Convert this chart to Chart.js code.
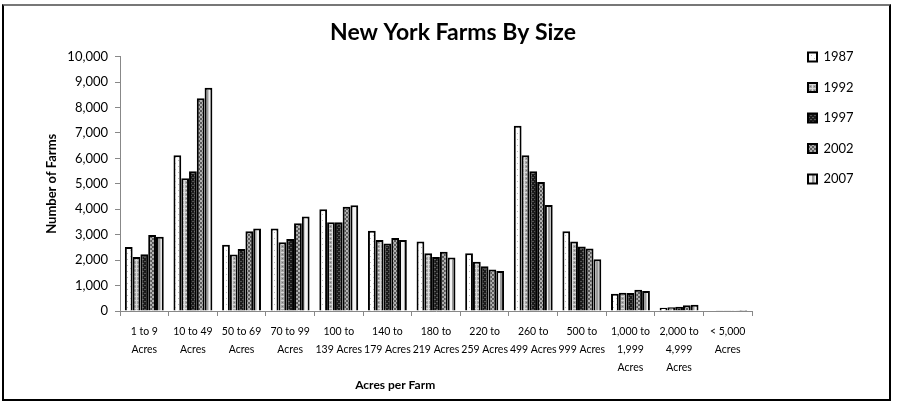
<!DOCTYPE html>
<html>
<head>
<meta charset="utf-8">
<script src="https://cdn.jsdelivr.net/npm/chart.js@4"></script>
<style>
  html, body { margin: 0; padding: 0; background: #fff; }
  #wrap { position: relative; width: 906px; height: 405px; }
  #frame { position: absolute; left: 2px; top: 4px; width: 885px; height: 393px; border: 2px solid #000; border-top-color: #777; box-sizing: content-box; pointer-events: none; }
  canvas { position: absolute; left: 0; top: 0; }
</style>
</head>
<body>
<div id="wrap">
  <canvas id="farm-chart" width="906" height="405"></canvas>
  <div id="frame"></div>
</div>
<script>
const sizeLabels = [
    ['1 to 9', 'Acres'], ['10 to 49', 'Acres'], ['50 to 69', 'Acres'], ['70 to 99', 'Acres'],
    ['100 to', '139 Acres'], ['140 to', '179 Acres'], ['180 to', '219 Acres'], ['220 to', '259 Acres'],
    ['260 to', '499 Acres'], ['500 to', '999 Acres'], ['1,000 to', '1,999', 'Acres'],
    ['2,000 to', '4,999', 'Acres'], ['< 5,000', 'Acres']
];
const years = ['1987', '1992', '1997', '2002', '2007'];
const farms1987 = [2520, 6120, 2600, 3240, 4000, 3150, 2730, 2270, 7280, 3130, 680, 130, 20];
const farms1992 = [2120, 5220, 2220, 2700, 3490, 2790, 2270, 1940, 6120, 2730, 720, 150, 25];
const farms1997 = [2230, 5490, 2440, 2830, 3490, 2650, 2120, 1760, 5490, 2540, 710, 170, 25];
const farms2002 = [2990, 8360, 3130, 3450, 4100, 2870, 2330, 1630, 5070, 2460, 840, 230, 30];
const farms2007 = [2920, 8780, 3240, 3710, 4160, 2790, 2100, 1570, 4170, 2030, 790, 250, 35];
const yMax = 10000;
const yStep = 1000;

const font = 'Lato, "Open Sans", sans-serif';

// little tiles used as bar fills, roughly like the old Excel patterns
function makePattern(size, draw) {
    const c = document.createElement('canvas');
    c.width = size; c.height = size;
    const g = c.getContext('2d');
    draw(g);
    return g.createPattern(c, 'repeat');
}

const fills = [
    makePattern(6, g => {           // white, sparse dots
        g.fillStyle = '#fff'; g.fillRect(0, 0, 6, 6);
        g.fillStyle = '#bbb'; g.fillRect(1, 1, 1, 1); g.fillRect(4, 4, 1, 1);
    }),
    makePattern(4, g => {           // grey grid
        g.fillStyle = '#a8a8a8'; g.fillRect(0, 0, 4, 4);
        g.fillStyle = '#d8d8d8'; g.fillRect(0, 0, 4, 1); g.fillRect(0, 0, 1, 4);
        g.fillStyle = '#777'; g.fillRect(2, 2, 1, 1);
    }),
    makePattern(4, g => {           // dark, faint dashes
        g.fillStyle = '#1a1a1a'; g.fillRect(0, 0, 4, 4);
        g.fillStyle = '#555'; g.fillRect(0, 1, 2, 1); g.fillRect(2, 3, 2, 1);
    }),
    makePattern(4, g => {           // checker
        g.fillStyle = '#5a5a5a'; g.fillRect(0, 0, 4, 4);
        g.fillStyle = '#b0b0b0'; g.fillRect(0, 0, 2, 2); g.fillRect(2, 2, 2, 2);
    }),
    makePattern(6, g => {           // vertical stripes
        g.fillStyle = '#f2f2f2'; g.fillRect(0, 0, 6, 6);
        g.fillStyle = '#9a9a9a'; g.fillRect(2, 0, 2, 6);
        g.fillStyle = '#c8c8c8'; g.fillRect(4, 0, 1, 6);
    })
];

const seriesValues = [farms1987, farms1992, farms1997, farms2002, farms2007];

const datasets = years.map((yr, i) => ({
    label: yr,
    data: seriesValues[i],
    backgroundColor: fills[i],
    borderColor: '#000',
    borderWidth: 2,
    categoryPercentage: 0.8,
    barPercentage: 1.0
}));

// pin the plot box to where the reference has it, and park the legend top right
const PLOT_RIGHT = 752;
const legendPlacer = {
    id: 'legendPlacer',
    beforeLayout(chart) {
        const lg = chart.legend;
        if (lg && !lg._pinned) {
            const fit = lg.fit.bind(lg);
            lg.fit = function () { fit(); this.width = chart.width - PLOT_RIGHT; };
            lg._pinned = true;
        }
    },
    afterLayout(chart) {
        const lg = chart.legend;
        const pad = lg.options.labels.padding;
        lg.left = 808 - pad;
        lg.right = lg.left + 80;
        lg.top = 57 - pad - 6.5;
        lg.bottom = lg.top + 200;
    }
};

new Chart(document.querySelector('#farm-chart'), {
    type: 'bar',
    data: { labels: sizeLabels, datasets: datasets },
    plugins: [legendPlacer],
    options: {
        responsive: false,
        animation: false,
        layout: { padding: { left: 0, right: 0, top: 10, bottom: 13 } },
        plugins: {
            title: {
                display: true,
                text: 'New York Farms By Size',
                color: '#000',
                font: { family: font, size: 23, weight: 'bold' },
                padding: { top: 9, bottom: 10 }
            },
            legend: {
                position: 'right',
                align: 'start',
                labels: {
                    color: '#000',
                    font: { family: font, size: 13 },
                    boxWidth: 9,
                    boxHeight: 9,
                    padding: 17.5
                }
            },
            tooltip: { enabled: false }
        },
        scales: {
            x: {
                afterFit: s => { s.height = 81; },
                grid: { drawOnChartArea: false, drawTicks: true, tickLength: 5, color: '#888', offset: true },
                border: { color: '#888', width: 1 },
                ticks: {
                    color: '#000',
                    font: { family: font, size: 10.5, lineHeight: 1.7 },
                    maxRotation: 0,
                    autoSkip: false,
                    padding: 7
                },
                title: {
                    display: true,
                    text: 'Acres per Farm' + '\u00a0'.repeat(28),
                    color: '#000',
                    font: { family: font, size: 12, weight: 'bold' },
                    padding: { top: 0, bottom: 0 }
                }
            },
            y: {
                min: 0,
                max: yMax,
                afterFit: s => { s.width = 120; },
                grid: { drawOnChartArea: false, drawTicks: true, tickLength: 5, color: '#888' },
                border: { color: '#888', width: 1 },
                ticks: {
                    stepSize: yStep,
                    color: '#000',
                    font: { family: font, size: 13 },
                    padding: 7,
                    callback: v => v.toLocaleString('en-US')
                },
                title: {
                    display: true,
                    text: 'Number of Farms',
                    color: '#000',
                    font: { family: font, size: 13, weight: 'bold' },
                    padding: { top: 44, bottom: 0 }
                }
            }
        }
    }
});
</script>
</body>
</html>
